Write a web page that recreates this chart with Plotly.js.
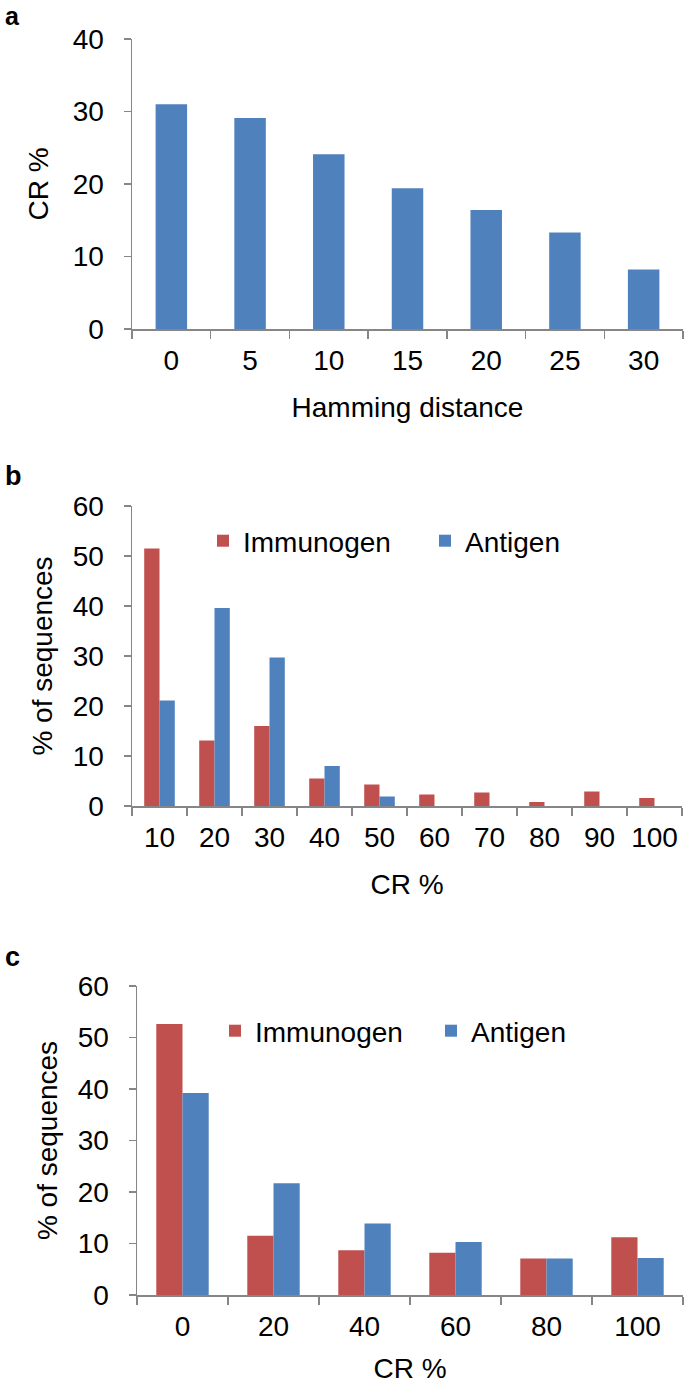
<!DOCTYPE html>
<html>
<head>
<meta charset="utf-8">
<script src="https://cdn.plot.ly/plotly-3.0.1.min.js"></script>
<style>
html,body{margin:0;padding:0;background:#fff;}
#chart{width:685px;height:1384px;}
</style>
</head>
<body>
<div id="chart"></div>
<script>
// ---- data ----
const hammingCats = ['0', '5', '10', '15', '20', '25', '30'];
const crByHamming = [31.0, 29.1, 24.1, 19.4, 16.4, 13.3, 8.2];

const crCatsB = ['10', '20', '30', '40', '50', '60', '70', '80', '90', '100'];
const immunogenB = [51.5, 13.1, 16.0, 5.5, 4.3, 2.3, 2.7, 0.8, 2.9, 1.6];
const antigenB = [21.1, 39.6, 29.7, 8.0, 1.9, 0, 0, 0, 0, 0];

const crCatsC = ['0', '20', '40', '60', '80', '100'];
const immunogenC = [52.6, 11.5, 8.7, 8.2, 7.1, 11.2];
const antigenC = [39.2, 21.7, 13.9, 10.3, 7.1, 7.2];

const seriesNames = ['Immunogen', 'Antigen'];
const panelLabels = ['a', 'b', 'c'];
const axisTitlesX = ['Hamming distance', 'CR %', 'CR %'];
const axisTitlesY = ['CR %', '% of sequences', '% of sequences'];

// ---- style ----
const RED = '#C0504D', BLUE = '#4F81BD', AX = '#868686';
const FONT = 'Liberation Sans, Arial, sans-serif';
const FS = 28;
const H = 1384, W = 685;
const py = p => 1 - p / H;
const px = p => p / W;

const wB = 0.278, wC = 0.288;

const traces = [
  {type: 'bar', x: hammingCats, y: crByHamming, xaxis: 'x', yaxis: 'y',
   marker: {color: BLUE}, width: 0.4, showlegend: false, hoverinfo: 'skip'},
  {type: 'bar', name: seriesNames[0], x: crCatsB, y: immunogenB, xaxis: 'x2', yaxis: 'y2',
   marker: {color: RED}, width: wB, offset: -wB, legend: 'legend'},
  {type: 'bar', name: seriesNames[1], x: crCatsB, y: antigenB, xaxis: 'x2', yaxis: 'y2',
   marker: {color: BLUE}, width: wB, offset: 0, legend: 'legend'},
  {type: 'bar', name: seriesNames[0], x: crCatsC, y: immunogenC, xaxis: 'x3', yaxis: 'y3',
   marker: {color: RED}, width: wC, offset: -wC, legend: 'legend2'},
  {type: 'bar', name: seriesNames[1], x: crCatsC, y: antigenC, xaxis: 'x3', yaxis: 'y3',
   marker: {color: BLUE}, width: wC, offset: 0, legend: 'legend2'}
];

function xax(domain, anchor, title) {
  return {
    domain: domain, anchor: anchor, type: 'category',
    showline: true, linecolor: AX, linewidth: 1.5, mirror: false,
    ticks: 'outside', tickson: 'boundaries', ticklen: 8, tickwidth: 1.5, tickcolor: AX,
    showgrid: false, zeroline: false, fixedrange: true, tickangle: 0,
    tickfont: {family: FONT, size: FS, color: '#000'},
    ticklabelstandoff: 6,
    title: {text: title, font: {family: FONT, size: FS, color: '#000'}, standoff: 22},
    automargin: false
  };
}
function yax(domain, anchor, range, title, standoff) {
  return {
    domain: domain, anchor: anchor, range: range, dtick: 10,
    showline: true, linecolor: AX, linewidth: 1.5,
    ticks: 'outside', ticklen: 7, tickwidth: 1.5, tickcolor: AX,
    showgrid: false, zeroline: false, fixedrange: true,
    tickfont: {family: FONT, size: FS, color: '#000'},
    ticklabelstandoff: 14,
    title: {text: title, font: {family: FONT, size: FS, color: '#000'}, standoff: standoff},
    automargin: false
  };
}

const legendCommon = {
  orientation: 'h', xanchor: 'left', yanchor: 'middle',
  font: {family: FONT, size: FS, color: '#000'},
  bgcolor: 'rgba(0,0,0,0)', borderwidth: 0, traceorder: 'normal'
};

const layout = {
  width: W, height: H,
  margin: {l: 0, r: 0, t: 0, b: 0},
  paper_bgcolor: '#fff', plot_bgcolor: '#fff',
  barmode: 'overlay',
  showlegend: true,
  xaxis: xax([px(132), px(683)], 'y', axisTitlesX[0]),
  yaxis: yax([py(329), py(39)], 'x', [0, 40], axisTitlesY[0], 16),
  xaxis2: xax([px(132), px(682)], 'y2', axisTitlesX[1]),
  yaxis2: yax([py(806), py(506)], 'x2', [0, 60], axisTitlesY[1], 12),
  xaxis3: xax([px(137), px(683)], 'y3', axisTitlesX[2]),
  yaxis3: yax([py(1295), py(986)], 'x3', [0, 60], axisTitlesY[2], 12),
  legend: Object.assign({}, legendCommon, {x: px(203), y: py(541), entrywidth: 177}),
  legend2: Object.assign({}, legendCommon, {x: px(215), y: py(1031), entrywidth: 171}),
  annotations: panelLabels.map((t, i) => ({
    text: '<b>' + t + '</b>', xref: 'paper', yref: 'paper', showarrow: false,
    x: px(3), xanchor: 'left', y: py([0, 476, 957][i]), yanchor: i === 0 ? 'top' : 'middle',
    font: {family: FONT, size: i === 0 ? 25 : 27, color: '#000'}
  }))
};

Plotly.newPlot('chart', traces, layout, {staticPlot: true, displayModeBar: false});
</script>
</body>
</html>
